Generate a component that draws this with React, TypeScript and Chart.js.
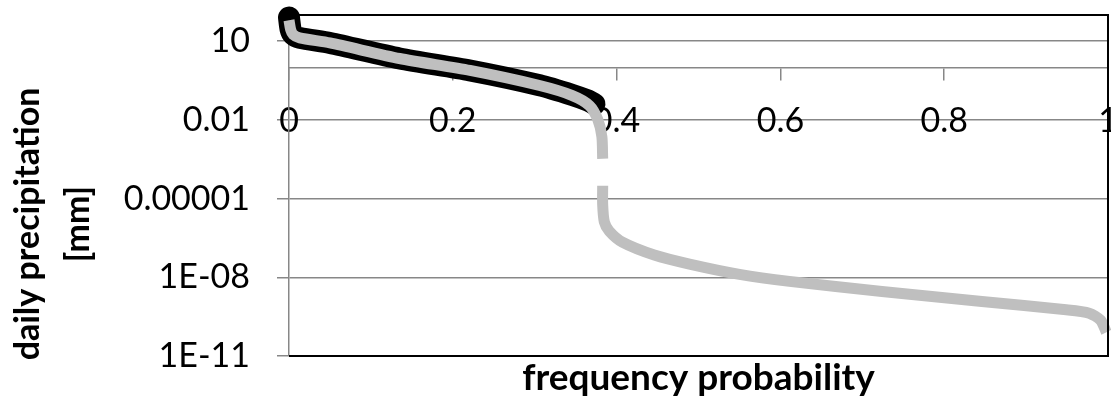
import React, { useEffect, useRef } from "react";
import { Chart, registerables } from "chart.js";

Chart.register(...registerables);

// frequency probability (x) and daily precipitation [mm] (y)
const grayProb = [0, 0.002, 0.005, 0.013, 0.05, 0.135, 0.221, 0.306, 0.346, 0.367, 0.377, 0.382, 0.383, 0.383, 0.383, 0.383, 0.385, 0.391, 0.407, 0.446, 0.489, 0.55, 0.611, 0.724, 0.846, 0.949, 0.977, 0.991, 0.998];
const grayPrecip = [63, 28, 18, 13.4, 8.6, 2.2, 0.77, 0.205, 0.085, 0.035, 0.0103, 0.0023, 0.00033, null, 0.000031, 0.0000058, 0.0000013, 5.8e-7, 2.2e-7, 7.1e-8, 3.2e-8, 1.3e-8, 7.0e-9, 2.9e-9, 1.2e-9, 5.8e-10, 4.3e-10, 2.3e-10, 8e-11];

const blackProb = [0, 0.002, 0.005, 0.013, 0.05, 0.135, 0.221, 0.306, 0.346, 0.365, 0.373];
const blackPrecip = [80, 28, 18, 13.4, 8.6, 2.2, 0.77, 0.21, 0.09, 0.055, 0.04];

const xTickValues = [0, 0.2, 0.4, 0.6, 0.8, 1];
const xTickLabels = ["0", "0.2", "0.4", "0.6", "0.8", "1"];
const yTickValues = [1e-11, 1e-8, 1e-5, 0.01, 10];
const yTickLabels = ["1E-11", "1E-08", "0.00001", "0.01", "10"];

const xTitle = "frequency probability";
const yTitleLines = ["daily precipitation", "[mm]"];

const GRID = "#878787";

export default function App() {
  const ref = useRef<HTMLCanvasElement | null>(null);

  useEffect(() => {
    if (!ref.current) return;
    const grayData = grayProb.map((x, i) => ({ x, y: grayPrecip[i] }));
    const blackData = blackProb.map((x, i) => ({ x, y: blackPrecip[i] }));

    const decor = {
      id: "decor",
      afterDatasetsDraw(chart: any) {
        const { ctx, chartArea } = chart;
        const { left, right, top, bottom } = chartArea;
        ctx.save();
        ctx.strokeStyle = "#000";
        ctx.lineWidth = 2;
        ctx.beginPath();
        ctx.moveTo(left, top);
        ctx.lineTo(right, top);
        ctx.lineTo(right, bottom);
        ctx.lineTo(left, bottom);
        ctx.stroke();
        ctx.restore();
      },
      afterDraw(chart: any) {
        const { ctx, chartArea } = chart;
        ctx.save();
        ctx.fillStyle = "#000";
        ctx.textAlign = "center";
        ctx.textBaseline = "middle";
        ctx.font = "bold 37px Lato";
        ctx.fillText(xTitle, (chartArea.left + chartArea.right) / 2, 378);
        ctx.font = "bold 34px Lato";
        const xs = [28, 78];
        yTitleLines.forEach((t, i) => {
          ctx.save();
          ctx.translate(xs[i], 224);
          ctx.rotate(-Math.PI / 2);
          ctx.fillText(t, 0, 0);
          ctx.restore();
        });
        ctx.restore();
      },
    };

    const chart = new Chart(ref.current, {
      type: "line",
      data: {
        datasets: [
          {
            label: "gray",
            data: grayData as any,
            borderColor: "#BFBFBF",
            borderWidth: 11,
            pointRadius: 0,
            tension: 0.25,
            spanGaps: false,
            clip: false as any,
            borderJoinStyle: "round",
            borderCapStyle: "butt",
            order: 0,
          },
          {
            label: "black",
            data: blackData as any,
            borderColor: "#000000",
            borderWidth: 22,
            pointRadius: 0,
            tension: 0.25,
            clip: false as any,
            borderJoinStyle: "round",
            borderCapStyle: "round",
            order: 1,
          },
        ],
      },
      options: {
        animation: false,
        responsive: false,
        devicePixelRatio: 1,
        layout: { padding: { left: 0, top: 15, right: 3, bottom: 44 } },
        plugins: { legend: { display: false }, tooltip: { enabled: false }, title: { display: false } },
        scales: {
          x: {
            type: "linear",
            min: 0,
            max: 1,
            position: { y: 1 } as any,
            afterBuildTicks: (s: any) => {
              s.ticks = xTickValues.map((v) => ({ value: v }));
            },
            afterFit: (s: any) => {
              s.paddingLeft = 0;
              s.paddingRight = 0;
            },
            ticks: {
              callback: (_v: any, i: number) => xTickLabels[i],
              font: { family: "Lato", size: 34 },
              color: "#000",
              padding: 21,
              maxRotation: 0,
              autoSkip: false,
            },
            grid: { drawOnChartArea: false, drawTicks: true, tickLength: 12, color: GRID, lineWidth: 1.5 },
            border: { color: GRID, width: 1.5 },
          },
          y: {
            type: "logarithmic",
            min: 1e-11,
            max: 100,
            afterBuildTicks: (s: any) => {
              s.ticks = yTickValues.map((v) => ({ value: v }));
            },
            afterFit: (s: any) => {
              s.width = 289;
              s.paddingTop = 0;
              s.paddingBottom = 0;
            },
            ticks: {
              callback: (_v: any, i: number) => yTickLabels[i],
              font: { family: "Lato", size: 34 },
              color: "#000",
              padding: 27,
              autoSkip: false,
            },
            grid: { color: GRID, lineWidth: 1.5, tickLength: 12, drawTicks: true },
            border: { color: GRID, width: 1.5 },
          },
        },
      },
      plugins: [decor],
    });
    return () => chart.destroy();
  }, []);

  return (
    <div style={{ position: "absolute", left: 0, top: 0, width: 1111, height: 400 }}>
      <canvas ref={ref} width={1111} height={400} />
    </div>
  );
}
